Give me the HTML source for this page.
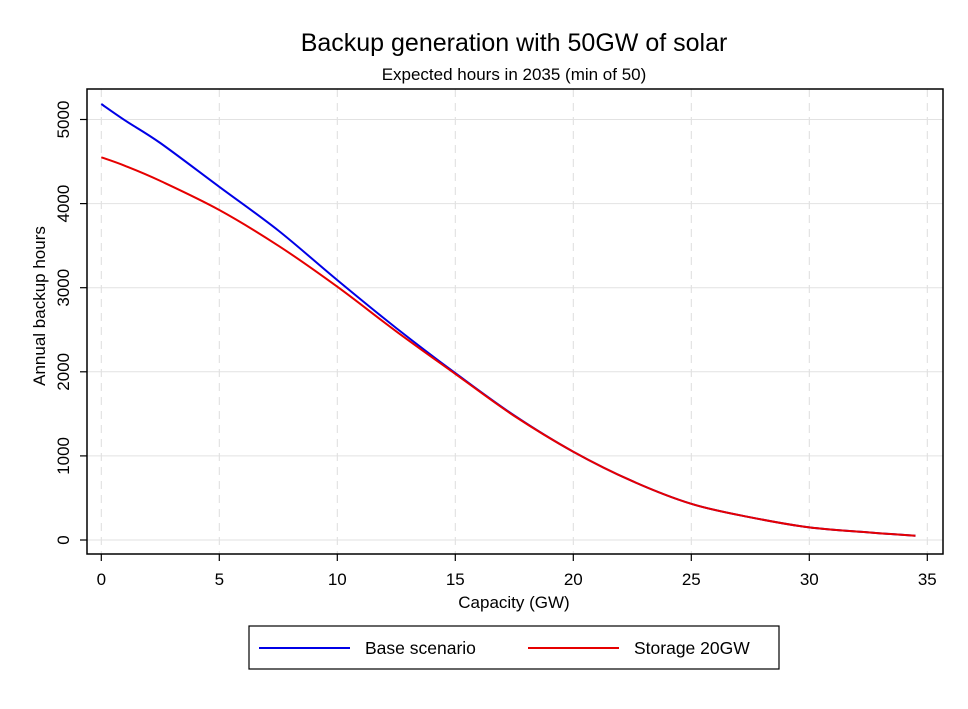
<!DOCTYPE html>
<html><head><meta charset="utf-8"><style>
body{margin:0;background:#fff;font-family:"Liberation Sans",Arial,sans-serif}
</style></head><body>
<svg id="chart" width="968" height="704" xmlns="http://www.w3.org/2000/svg" font-family="Liberation Sans, Arial, sans-serif">
<rect width="968" height="704" fill="#fff"/>
<text x="514" y="51" font-size="25" text-anchor="middle">Backup generation with 50GW of solar</text>
<text x="514" y="80" font-size="17" text-anchor="middle">Expected hours in 2035 (min of 50)</text>
<g id="grid"></g>
<g id="series"></g>
<rect x="87" y="89" width="856" height="465" fill="none" stroke="#000" stroke-width="1.5"/>
<g id="axes"></g>
<text x="514" y="608" font-size="17" text-anchor="middle">Capacity (GW)</text>
<text transform="translate(45,306) rotate(-90)" font-size="17" text-anchor="middle">Annual backup hours</text>
<g>
<rect x="249" y="626" width="530" height="43" fill="#fff" stroke="#000" stroke-width="1.2"/>
<line x1="259" y1="648" x2="350" y2="648" stroke="#0000e6" stroke-width="2"/>
<text x="365" y="654" font-size="17.5">Base scenario</text>
<line x1="528" y1="648" x2="619" y2="648" stroke="#e60000" stroke-width="2"/>
<text x="634" y="654" font-size="17.5">Storage 20GW</text>
</g>
</svg>
<script>
const capacity=[0,1,2.5,5,7.5,10,12.5,15,17.5,20,22.5,25,27.5,30,32.5,34.5];
const baseHours=[5184,4990,4720,4200,3680,3090,2520,1985,1480,1050,700,430,270,150,90,50];
const storageHours=[4550,4450,4270,3924,3500,3012,2480,1975,1475,1050,700,430,270,150,90,50];
const xTicks=[0,5,10,15,20,25,30,35];
const yTicks=[0,1000,2000,3000,4000,5000];
const xs=v=>101.3+v*23.6;
const ys=v=>540-v*0.0841;
const NS="http://www.w3.org/2000/svg";
const grid=document.getElementById('grid'),axes=document.getElementById('axes'),ser=document.getElementById('series');
function mk(tag,attrs,parent){const e=document.createElementNS(NS,tag);for(const k in attrs)e.setAttribute(k,attrs[k]);parent.appendChild(e);return e;}
xTicks.forEach(t=>{
 const g=mk('line',{x1:xs(t),x2:xs(t),y1:89,y2:554,stroke:'#ddd','stroke-dasharray':'8,6'},grid);
 
 
 const tk=mk('line',{x1:xs(t),x2:xs(t),y1:554,y2:561,stroke:'#000','stroke-width':1.2},axes);
 
 
 const lb=mk('text',{x:xs(t),y:585,'font-size':17,'text-anchor':'middle'},axes);
 lb.textContent=t;
 
 
});
yTicks.forEach(t=>{
 const g=mk('line',{x1:87,x2:943,y1:ys(t),y2:ys(t),stroke:'#e2e2e2'},grid);
 
 
 const tk=mk('line',{x1:80,x2:87,y1:ys(t),y2:ys(t),stroke:'#000','stroke-width':1.2},axes);
 
 
 const lb=mk('text',{transform:`translate(69,${ys(t)}) rotate(-90)`,'font-size':17,'text-anchor':'middle'},axes);
 lb.textContent=t;
 
 
});
function line(vals,color,name){
 const P=capacity.map((c,i)=>[xs(c),ys(vals[i])]);
 let d='M'+P[0][0].toFixed(1)+','+P[0][1].toFixed(1);
 for(let i=0;i<P.length-1;i++){
  const p0=P[Math.max(i-1,0)],p1=P[i],p2=P[i+1],p3=P[Math.min(i+2,P.length-1)];
  const c1=[p1[0]+(p2[0]-p0[0])/6,p1[1]+(p2[1]-p0[1])/6];
  const c2=[p2[0]-(p3[0]-p1[0])/6,p2[1]-(p3[1]-p1[1])/6];
  d+=` C${c1[0].toFixed(1)},${c1[1].toFixed(1)} ${c2[0].toFixed(1)},${c2[1].toFixed(1)} ${p2[0].toFixed(1)},${p2[1].toFixed(1)}`;
 }
 const p=mk('path',{d:d,fill:'none',stroke:color,'stroke-width':2,'stroke-linejoin':'round'},ser);
 
 
}
line(baseHours,'#0000e6','base-scenario-line');
line(storageHours,'#e60000','storage-20gw-line');
</script>
</body></html>
